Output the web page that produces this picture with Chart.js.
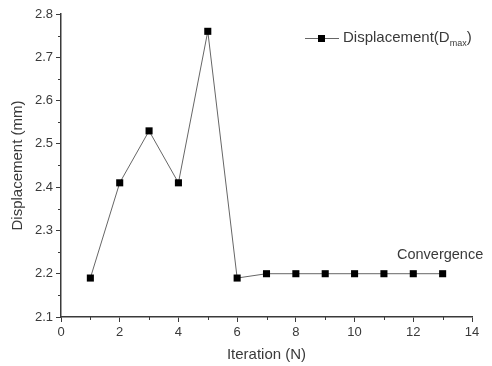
<!DOCTYPE html>
<html>
<head>
<meta charset="utf-8">
<script src="https://cdn.jsdelivr.net/npm/chart.js@4"></script>
<style>
  html, body { margin: 0; padding: 0; background: #fff; }
  #wrap { width: 492px; height: 366px; }
</style>
</head>
<body>
<div id="wrap"><canvas id="c"></canvas></div>
<script>
const iterations = [1, 2, 3, 4, 5, 6, 7, 8, 9, 10, 11, 12, 13];
const displacement = [2.19, 2.41, 2.53, 2.41, 2.76, 2.19, 2.20, 2.20, 2.20, 2.20, 2.20, 2.20, 2.20];
const xTicks = [0, 2, 4, 6, 8, 10, 12, 14];
const yTicks = [2.1, 2.2, 2.3, 2.4, 2.5, 2.6, 2.7, 2.8];
const xMinor = [1, 3, 5, 7, 9, 11, 13];
const yMinor = [2.15, 2.25, 2.35, 2.45, 2.55, 2.65, 2.75];

const font = "'Liberation Sans', Arial, sans-serif";
const ink = "#3a3a3a";

// minor ticks, legend with subscript, and the "Convergence" note
const extras = {
    id: "extras",
    afterDraw(chart) {
        const ctx = chart.ctx;
        const x = chart.scales.x, y = chart.scales.y;
        ctx.save();
        ctx.strokeStyle = ink;
        ctx.lineWidth = 1;
        ctx.beginPath();
        xMinor.forEach(v => {
            const px = Math.round(x.getPixelForValue(v)) + 0.5;
            ctx.moveTo(px, y.bottom);
            ctx.lineTo(px, y.bottom + 3);
        });
        yMinor.forEach(v => {
            const py = Math.round(y.getPixelForValue(v)) + 0.5;
            ctx.moveTo(x.left, py);
            ctx.lineTo(x.left - 3, py);
        });
        ctx.stroke();

        // legend
        const ly = 38;
        ctx.strokeStyle = "#666";
        ctx.beginPath();
        ctx.moveTo(305, ly + 0.5);
        ctx.lineTo(339, ly + 0.5);
        ctx.stroke();
        ctx.fillStyle = "#000";
        ctx.fillRect(318, ly - 3, 7, 7);
        ctx.fillStyle = ink;
        ctx.textBaseline = "middle";
        ctx.textAlign = "left";
        ctx.font = "15px " + font;
        let tx = 343;
        ctx.fillText("Displacement(D", tx, ly);
        tx += ctx.measureText("Displacement(D").width;
        ctx.font = "9px " + font;
        ctx.fillText("max", tx, ly + 6);
        tx += ctx.measureText("max").width;
        ctx.font = "15px " + font;
        ctx.fillText(")", tx, ly);

        // annotation
        ctx.font = "14.5px " + font;
        ctx.fillText("Convergence", 397, y.getPixelForValue(2.244));
        ctx.restore();
    }
};

new Chart(document.getElementById("c").getContext("2d"), {
    type: "line",
    data: {
        labels: iterations,
        datasets: [{
            label: "Displacement(Dmax)",
            data: iterations.map((n, i) => ({ x: n, y: displacement[i] })),
            borderColor: "#666",
            borderWidth: 1,
            pointStyle: "rect",
            pointRadius: 5,
            pointBackgroundColor: "#000",
            pointBorderColor: "#000",
            pointBorderWidth: 0,
            tension: 0,
        }],
    },
    options: {
        responsive: true,
        maintainAspectRatio: false,
        animation: false,
        layout: { padding: { top: 14, right: 20, left: 0, bottom: 0 } },
        plugins: {
            legend: { display: false },
            tooltip: { enabled: false },
        },
        scales: {
            x: {
                type: "linear",
                min: 0,
                max: 14,
                afterBuildTicks: s => { s.ticks = xTicks.map(v => ({ value: v })); },
                afterFit: s => { s.height = 49; },
                grid: { drawOnChartArea: false, tickLength: 5, color: ink, tickColor: ink },
                border: { color: ink, width: 1.5 },
                ticks: { color: ink, font: { family: font, size: 13 }, padding: 3, maxRotation: 0 },
                title: { display: true, text: "Iteration (N)", color: ink, font: { family: font, size: 15 }, padding: { top: 2, bottom: 2 } },
            },
            y: {
                min: 2.1,
                max: 2.8,
                afterBuildTicks: s => { s.ticks = yTicks.map(v => ({ value: v })); },
                afterFit: s => { s.width = 61; },
                grid: { drawOnChartArea: false, tickLength: 5, color: ink, tickColor: ink },
                border: { color: ink, width: 1.5 },
                ticks: { color: ink, font: { family: font, size: 13 }, padding: 3, callback: v => v.toFixed(1) },
                title: { display: true, text: "Displacement (mm)", color: ink, font: { family: font, size: 15 }, padding: { top: 9, bottom: 2 } },
            },
        },
    },
    plugins: [extras],
});
</script>
</body>
</html>
